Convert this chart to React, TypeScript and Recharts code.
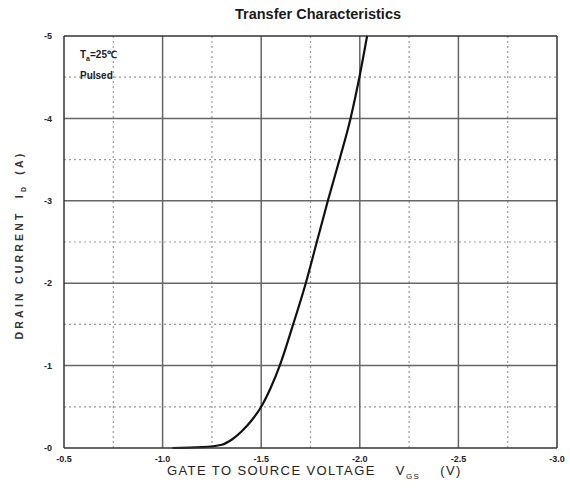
import React from "react";
import { LineChart, Line, XAxis, YAxis, ReferenceLine } from "recharts";

const vgs = [-1.05, -1.2, -1.3, -1.35, -1.4, -1.45, -1.5, -1.55, -1.594, -1.662, -1.726, -1.782, -1.838, -1.897, -1.953, -1.998, -2.037];
const idrain = [0, -0.01, -0.04, -0.1, -0.2, -0.33, -0.5, -0.74, -1.0, -1.5, -2.0, -2.5, -3.0, -3.5, -4.0, -4.5, -5.0];

const xTicks = [-0.5, -1.0, -1.5, -2.0, -2.5, -3.0];
const xTickLabels = ["-0.5", "-1.0", "-1.5", "-2.0", "-2.5", "-3.0"];
const yTicks = [-5, -4, -3, -2, -1, 0];
const yTickLabels = ["-5", "-4", "-3", "-2", "-1", "-0"];
const xMajorGrid = [-1.0, -1.5, -2.0, -2.5];
const xMinorGrid = [-0.75, -1.25, -1.75, -2.25, -2.75];
const yMajorGrid = [-4, -3, -2, -1];
const yMinorGrid = [-4.5, -3.5, -2.5, -1.5, -0.5];

const data = vgs.map((v, i) => ({ v, id: idrain[i] }));

const font = "Arial, 'Liberation Sans', sans-serif";

export default function App() {
  return (
    <div style={{ position: "absolute", left: 0, top: 0, width: 570, height: 495, background: "#fff", fontFamily: font }}>
      <LineChart width={570} height={495} data={data} margin={{ top: 36, right: 13, left: 0, bottom: 17 }}>
        <XAxis
          dataKey="v"
          type="number"
          domain={[-3, -0.5]}
          reversed
          ticks={xTicks}
          tickFormatter={(t: number) => xTickLabels[xTicks.indexOf(t)]}
          tickLine={false}
          axisLine={{ stroke: "#333", strokeWidth: 1.5 }}
          height={30}
          tick={{ fontSize: 9, fill: "#222", fontWeight: 700, fontFamily: font }}
          tickMargin={2}
          interval={0}
        />
        <YAxis
          type="number"
          domain={[-5, 0]}
          reversed
          ticks={yTicks}
          tickFormatter={(t: number) => yTickLabels[yTicks.indexOf(t)]}
          tickLine={false}
          axisLine={{ stroke: "#333", strokeWidth: 1.5 }}
          width={64}
          tick={{ fontSize: 9, fill: "#222", fontWeight: 700, fontFamily: font }}
          tickMargin={6}
          interval={0}
        />
        {xMinorGrid.map((x) => (
          <ReferenceLine key={"xm" + x} x={x} stroke="#999" strokeDasharray="2 3" strokeWidth={1.2} />
        ))}
        {yMinorGrid.map((y) => (
          <ReferenceLine key={"ym" + y} y={y} stroke="#999" strokeDasharray="2 3" strokeWidth={1.2} />
        ))}
        {xMajorGrid.map((x) => (
          <ReferenceLine key={"xM" + x} x={x} stroke="#666" strokeWidth={1.5} />
        ))}
        {yMajorGrid.map((y) => (
          <ReferenceLine key={"yM" + y} y={y} stroke="#666" strokeWidth={1.5} />
        ))}
        <ReferenceLine x={-3} stroke="#333" strokeWidth={1.5} />
        <ReferenceLine y={-5} stroke="#333" strokeWidth={1.5} />
        <Line
          type="monotone"
          dataKey="id"
          stroke="#111"
          strokeWidth={2.2}
          dot={false}
          isAnimationActive={false}
        />
      </LineChart>
      <div style={{ position: "absolute", left: 0, width: 636, top: 6, textAlign: "center", fontSize: 14.5, fontWeight: 700, color: "#1a1a1a" }}>
        Transfer Characteristics
      </div>
      <div style={{ position: "absolute", left: 80, top: 47, fontSize: 10, color: "#222", fontWeight: 600 }}>
        T<sub style={{ fontSize: 7 }}>a</sub>=25℃
      </div>
      <div style={{ position: "absolute", left: 80, top: 70, fontSize: 10, color: "#222", fontWeight: 600 }}>
        Pulsed
      </div>
      <div
        style={{
          position: "absolute",
          left: 20,
          top: 245,
          transform: "translate(-50%, -50%) rotate(-90deg)",
          whiteSpace: "nowrap",
          fontSize: 10.5,
          fontWeight: 700,
          color: "#333",
          letterSpacing: 3.2,
        }}
      >
        DRAIN CURRENT&nbsp;&nbsp;I<sub style={{ fontSize: 7, letterSpacing: 0 }}>D</sub>&nbsp;&nbsp;(A)
      </div>
      <div style={{ position: "absolute", left: 167, top: 463, whiteSpace: "nowrap", fontSize: 13, color: "#222", letterSpacing: 1.4 }}>
        GATE TO SOURCE VOLTAGE&nbsp;&nbsp;&nbsp;&nbsp;V<sub style={{ fontSize: 8 }}>GS</sub>&nbsp;&nbsp;&nbsp;&nbsp;(V)
      </div>
    </div>
  );
}
